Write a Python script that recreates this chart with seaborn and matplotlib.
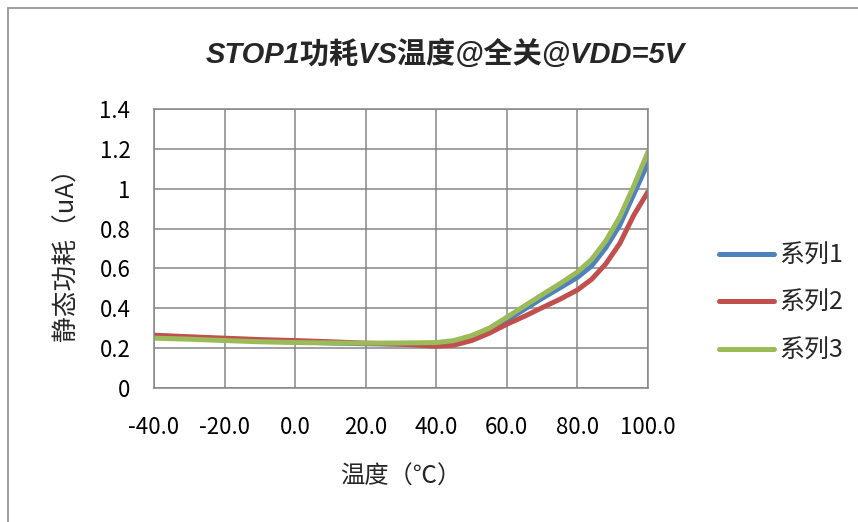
import numpy as np
import pandas as pd
import seaborn as sns
import matplotlib
matplotlib.use("Agg")
from matplotlib import pyplot as plt
from matplotlib.patches import Rectangle
from matplotlib.ticker import FuncFormatter, MultipleLocator

# 温度点 (℃)
temps = [-40, -30, -20, -10, 0, 10, 20, 30, 40, 45, 50, 55, 60, 65, 70, 75, 80, 84, 88, 92, 96, 100]
# 静态功耗 (uA)
series1 = [0.262, 0.255, 0.245, 0.237, 0.232, 0.226, 0.222, 0.220, 0.218, 0.226, 0.250,
           0.288, 0.340, 0.395, 0.450, 0.502, 0.555, 0.612, 0.703, 0.817, 0.973, 1.130]
series2 = [0.265, 0.257, 0.250, 0.243, 0.238, 0.232, 0.225, 0.220, 0.210, 0.215, 0.238,
           0.275, 0.320, 0.360, 0.403, 0.445, 0.492, 0.545, 0.622, 0.725, 0.868, 0.985]
series3 = [0.250, 0.245, 0.238, 0.232, 0.228, 0.226, 0.225, 0.226, 0.228, 0.238, 0.263,
           0.300, 0.355, 0.412, 0.468, 0.523, 0.582, 0.645, 0.737, 0.858, 1.015, 1.185]
names = ['系列1', '系列2', '系列3']

rows = []
for name, vals in zip(names, [series1, series2, series3]):
    for t, v in zip(temps, vals):
        rows.append({'temp': t, 'power': v, 'series': name})
df = pd.DataFrame(rows)

palette = {'系列1': '#4F81BD', '系列2': '#C0504D', '系列3': '#9BBB59'}

sns.set_theme(style='white')
plt.rcParams['font.family'] = ['Noto Sans CJK SC', 'DejaVu Sans']
plt.rcParams['axes.unicode_minus'] = False

fig = plt.figure(figsize=(8.58, 5.22), dpi=100)
ax = fig.add_axes([154 / 858, 1 - 388 / 522, (648 - 154) / 858, (388 - 109) / 522])

sns.lineplot(data=df, x='temp', y='power', hue='series', palette=palette,
             linewidth=3.6, ax=ax, legend=False, sort=False)
for line in ax.get_lines():
    line.set_solid_capstyle('round')
    line.set_solid_joinstyle('round')

ax.set_xlim(-40, 100)
ax.set_ylim(0, 1.4)
ax.xaxis.set_major_locator(MultipleLocator(20))
ax.yaxis.set_major_locator(MultipleLocator(0.2))
ax.xaxis.set_major_formatter(FuncFormatter(lambda v, p: f'{v:.1f}'))
ax.yaxis.set_major_formatter(FuncFormatter(lambda v, p: f'{round(v, 1):g}'))

grid_c = '#868686'
ax.grid(True, color=grid_c, linewidth=1.1)
ax.set_axisbelow(True)
for sp in ax.spines.values():
    sp.set_visible(True)
    sp.set_color(grid_c)
    sp.set_linewidth(1.1)
ax.tick_params(axis='both', length=0, labelsize=16, colors='black')
ax.tick_params(axis='x', pad=20)
ax.tick_params(axis='y', pad=17)

ax.set_xlabel('温度（℃）', fontsize=17.5, labelpad=18)
ax.set_ylabel('静态功耗（uA）', fontsize=18.5, labelpad=14)

fig.text(445 / 858, 1 - 55 / 522, 'STOP1功耗VS温度@全关@VDD=5V', ha='center', va='center',
         fontsize=21, fontweight='bold', fontstyle='italic',
         family=['Liberation Sans', 'Noto Sans CJK SC'])

handles = [plt.Line2D([], [], color=palette[n], linewidth=3.6, solid_capstyle='round') for n in names]
fig.legend(handles, names, loc='center left', bbox_to_anchor=(696 / 858, 1 - 303 / 522),
           frameon=False, fontsize=18, handlelength=2.2, handletextpad=0.25, labelspacing=0.85)

fig.patches.append(Rectangle((8 / 858, -0.1), 1.2, 1 - 8 / 522 + 0.1, transform=fig.transFigure,
                             fill=False, edgecolor='#8c8c8c', linewidth=1.2, zorder=0))

fig.savefig('out.png', dpi=100, facecolor='white')
